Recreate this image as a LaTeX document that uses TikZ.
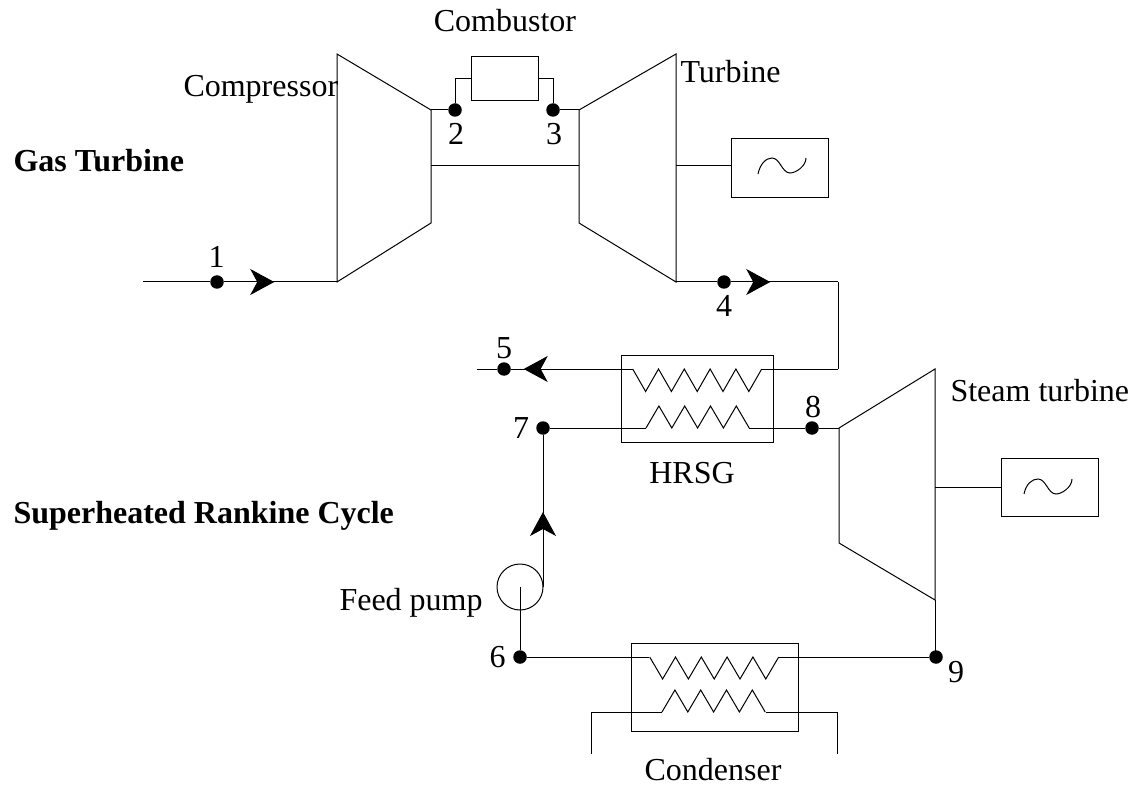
\documentclass[tikz,border=0pt]{standalone}
\usepackage{fontspec}
\setmainfont{Liberation Serif}
\usetikzlibrary{arrows.meta,decorations.markings}

\tikzset{
  label text/.style={font=\fontsize{32}{36}\selectfont,inner sep=0pt,anchor=base},
  title text/.style={font=\fontsize{32}{36}\selectfont\bfseries,inner sep=0pt,anchor=base west},
  state/.style={circle,fill=black,inner sep=0pt,minimum size=13.5pt},
  box/.style={draw,inner sep=0pt,anchor=north west},
  flow/.style={postaction={decorate},decoration={markings,
    mark=at position #1 with {\arrow{Stealth[length=24pt,width=26pt,inset=7pt]}}}}
}

\begin{document}
\begin{tikzpicture}[x=1pt,y=-1pt,line width=1pt,line join=miter]
\useasboundingbox (0,0) rectangle (1137,791);

% states
\node[state] (s1) at (217,282) {};
\node[state] (s2) at (455,110) {};
\node[state] (s3) at (553,110) {};
\node[state] (s4) at (724,282) {};
\node[state] (s5) at (504,369) {};
\node[state] (s6) at (520,657) {};
\node[state] (s7) at (543,428) {};
\node[state] (s8) at (812,428) {};
\node[state] (s9) at (936,657) {};

% gas turbine
\draw (337,54) -- (431,110) -- (431,223) -- (337,282) -- cycle;
\draw (579,110) -- (676,54) -- (676,282) -- (579,223) -- cycle;
\coordinate (compOut) at (431,110);
\coordinate (turbIn) at (579,110);
\coordinate (compShaft) at (431,166);
\coordinate (turbShaft) at (579,166);
\coordinate (compIn) at (337,282);
\coordinate (turbOut) at (676,282);
\coordinate (inlet) at (143,282);
\coordinate (bend1) at (838,282);
\coordinate (bend2) at (838,369);
\node[box,minimum width=67pt,minimum height=44pt] (combustor) at (471,56) {};
\node[box,minimum width=97.5pt,minimum height=59pt] (gen1) at (730.5,138) {};
\coordinate (gen1Shaft) at (676,166);

\draw (compShaft) -- (turbShaft);
\draw (compOut) -- (s2);
\draw (s3) -- (turbIn);
\draw (s2) |- (combustor.west);
\draw (s3) |- (combustor.east);
\draw (gen1Shaft) -- (gen1Shaft -| gen1.west);
\draw (758,174) .. controls (760,164) and (766,158) .. (772,158)
  .. controls (780,158) and (782,173) .. (790,173)
  .. controls (796,173) and (806,166) .. (806,158);
\draw[flow=50pt] (s1) -- (compIn);
\draw (inlet) -- (s1);
\draw (turbOut) -- (s4);
\draw[flow=39pt] (s4) -- (bend1);
\draw (bend1) -- (bend2);

% hrsg
\node[box,minimum width=152pt,minimum height=87pt] (hrsg) at (621,355) {};
\coordinate (hotIn) at (761.7,369);
\coordinate (hotOut) at (632.7,369);
\coordinate (coldIn) at (646,428);
\coordinate (coldOut) at (749,428);
\coordinate (gasEnd) at (477,369);
\draw (bend2) -- (hotIn);
\draw (hotIn) foreach \i in {1,...,5} {-- ++(-12.9,22.5) -- ++(-12.9,-22.5)};
\draw[flow=109pt] (hotOut) -- (s5);
\draw (s5) -- (gasEnd);
\draw (s7) -- (coldIn);
\draw (coldIn) foreach \i in {1,...,4} {-- ++(12.9,-22) -- ++(12.9,22)};
\draw (coldOut) -- (s8);

% steam turbine
\draw (839,428) -- (935,369) -- (935,600) -- (839,543) -- cycle;
\coordinate (steamIn) at (839,428);
\coordinate (steamOut) at (935,600);
\coordinate (gen2Shaft) at (935,487);
\node[box,minimum width=97.5pt,minimum height=58.5pt] (gen2) at (1000.5,457.5) {};
\draw (s8) -- (steamIn);
\draw (gen2Shaft) -- (gen2Shaft -| gen2.west);
\draw (1024,494) .. controls (1026,484) and (1032,479) .. (1038,479)
  .. controls (1046,479) and (1048,494) .. (1056,494)
  .. controls (1062,494) and (1072,487) .. (1072,479);
\draw (steamOut) -- (steamOut |- s9);

% condenser
\node[box,minimum width=167pt,minimum height=88pt] (condenser) at (631,643) {};
\coordinate (condIn) at (778.7,657);
\coordinate (condOut) at (649,657);
\coordinate (waterIn) at (662,712);
\coordinate (waterOut) at (765.5,712);
\coordinate (waterL) at (591,754);
\coordinate (waterR) at (837,754);
\draw (s9) -- (condIn);
\draw (condIn) foreach \i in {1,...,5} {-- ++(-12.9,22) -- ++(-12.9,-22)};
\draw (condOut) -- (s6);
\draw (waterL) |- (waterIn);
\draw (waterIn) foreach \i in {1,...,4} {-- ++(12.9,-22) -- ++(12.9,22)};
\draw (waterOut) -| (waterR);

% feed pump
\node[draw,circle,inner sep=0pt,minimum size=46pt] (pump) at (520,587) {};
\coordinate (pumpOut) at (543,587);
\draw (s6) -- (pump.center);
\draw[flow=75pt] (pumpOut) -- (s7);

% texts
\node[label text,anchor=base west] (compressor) at (183,97) {Compressor};
\node[label text] (combustorName) at (505,32) {Combustor};
\node[label text,anchor=base west] (turbineName) at (680,83) {Turbine};
\node[label text,anchor=base west] (steamName) at (950,401) {Steam turbine};
\node[label text] (hrsgName) at (692,483) {HRSG};
\node[label text,anchor=base west] (pumpName) at (339,610) {Feed pump};
\node[label text] (condenserName) at (713,780) {Condenser};
\node[title text] (gasTitle) at (13,172) {Gas Turbine};
\node[title text] (steamTitle) at (13,523) {Superheated Rankine Cycle};
\node[label text] (n1) at (216.5,268) {1};
\node[label text] (n2) at (456,145) {2};
\node[label text] (n3) at (554,145) {3};
\node[label text] (n4) at (724,317) {4};
\node[label text] (n5) at (504,359) {5};
\node[label text] (n6) at (497.5,667) {6};
\node[label text] (n7) at (521,438) {7};
\node[label text] (n8) at (813,417) {8};
\node[label text] (n9) at (956,682) {9};
\end{tikzpicture}
\end{document}
